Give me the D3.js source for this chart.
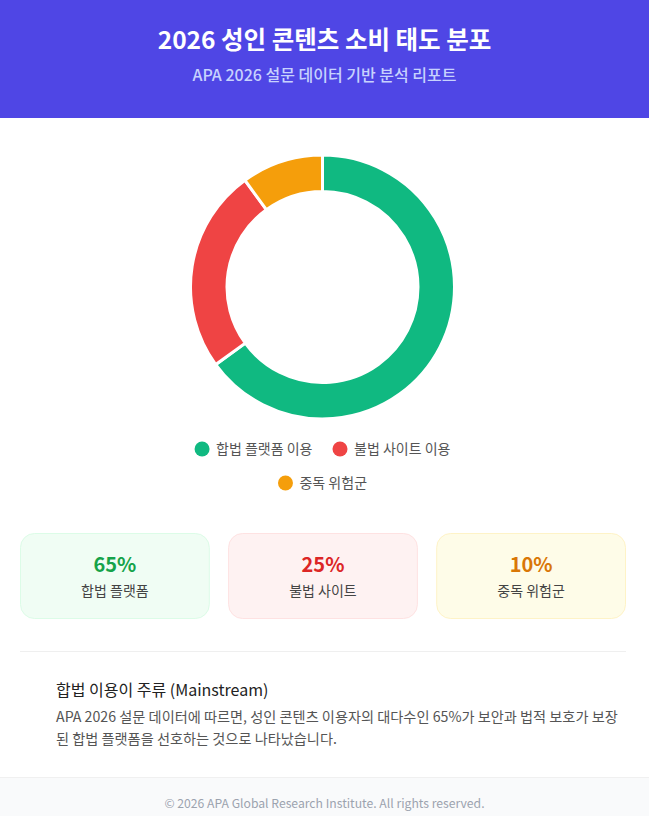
<!DOCTYPE html>
<html><head><meta charset="utf-8">
<script src="https://cdn.jsdelivr.net/npm/d3@7"></script>
<style>
html,body{margin:0;padding:0;background:#fff;}
svg{display:block;font-family:"Noto Sans CJK KR","Noto Sans",sans-serif;}
</style></head>
<body>
<svg id="c" width="649" height="816"></svg>
<script>
const categories = ["합법 플랫폼 이용", "불법 사이트 이용", "중독 위험군"];
const values = [65, 25, 10];
const colors = ["#10b981", "#ef4444", "#f59e0b"];
const cardLabels = ["합법 플랫폼", "불법 사이트", "중독 위험군"];
const cardValueColors = ["#16a34a", "#dc2626", "#d97706"];
const cardBg = ["#f0fdf4", "#fef2f2", "#fefce8"];
const cardBorder = ["#dcfce7", "#fee2e2", "#fef3c7"];
const title = "2026 성인 콘텐츠 소비 태도 분포";
const subtitle = "APA 2026 설문 데이터 기반 분석 리포트";
const noteTitle = "합법 이용이 주류 (Mainstream)";
const noteLines = ["APA 2026 설문 데이터에 따르면, 성인 콘텐츠 이용자의 대다수인 65%가 보안과 법적 보호가 보장", "된 합법 플랫폼을 선호하는 것으로 나타났습니다."];
const footer = "© 2026 APA Global Research Institute. All rights reserved.";

const svg = d3.select("#c");
const W = 649;

// header
svg.append("rect").attr("x",0).attr("y",0).attr("width",W).attr("height",118).attr("fill","#4f46e5");
svg.append("text").attr("x",W/2).attr("y",49).attr("text-anchor","middle").attr("fill","#fff")
  .attr("font-size",24.5).attr("font-weight",700).text(title);
svg.append("text").attr("x",W/2).attr("y",81).attr("text-anchor","middle").attr("fill","#c7d2fe")
  .attr("font-size",16).attr("font-weight",500).text(subtitle);

// donut
const cx = 322.5, cy = 287, R = 132, r = 95.5;
const pie = d3.pie().sort(null).value(d=>d);
const arc = d3.arc().innerRadius(r).outerRadius(R);
const g = svg.append("g").attr("transform",`translate(${cx},${cy})`);
g.selectAll("path").data(pie(values)).join("path")
  .attr("d",arc).attr("fill",(d,i)=>colors[i]).attr("stroke","#fff").attr("stroke-width",3);

// legend
function legendRow(items, y){
  const grp = svg.append("g");
  let x = 0;
  items.forEach((i,k)=>{
    const it = grp.append("g").attr("transform",`translate(${x},0)`);
    it.append("circle").attr("cx",7.5).attr("cy",y).attr("r",7.5).attr("fill",colors[i]);
    const t = it.append("text").attr("x",21.5).attr("y",y+5).attr("font-size",14).attr("fill","#555").text(categories[i]);
    const w = t.node().getComputedTextLength();
    x += 21.5 + w + 20;
  });
  const total = x - 20;
  grp.attr("transform",`translate(${cx - total/2},0)`);
}
legendRow([0,1], 449);
legendRow([2], 483);

// cards
const cardX = d3.scaleBand().domain(d3.range(3)).range([20,626]).paddingInner(0.088);
const cards = svg.selectAll("g.card").data(values).join("g").attr("class","card")
  .attr("transform",(d,i)=>`translate(${cardX(i)},533)`);
cards.append("rect").attr("x",0.5).attr("y",0.5).attr("width",cardX.bandwidth()-1).attr("height",85)
  .attr("rx",14).attr("fill",(d,i)=>cardBg[i]).attr("stroke",(d,i)=>cardBorder[i]);
cards.append("text").attr("x",cardX.bandwidth()/2).attr("y",39).attr("text-anchor","middle")
  .attr("font-size",20).attr("font-weight",700).attr("fill",(d,i)=>cardValueColors[i]).text(d=>d+"%");
cards.append("text").attr("x",cardX.bandwidth()/2).attr("y",63).attr("text-anchor","middle")
  .attr("font-size",14).attr("fill","#444").text((d,i)=>cardLabels[i]);

// divider
svg.append("line").attr("x1",20).attr("x2",626).attr("y1",651.5).attr("y2",651.5).attr("stroke","#efefef");

// note
svg.append("text").attr("x",56).attr("y",696).attr("font-size",16).attr("fill","#222").text(noteTitle);
noteLines.forEach((l,i)=>{
  svg.append("text").attr("x",56).attr("y",722+i*21.5).attr("font-size",14.2).attr("fill","#555").text(l);
});

// footer
svg.append("rect").attr("x",0).attr("y",777).attr("width",W).attr("height",39).attr("fill","#f9fafb");
svg.append("line").attr("x1",0).attr("x2",W).attr("y1",777.5).attr("y2",777.5).attr("stroke","#f0f0f0");
svg.append("text").attr("x",W/2).attr("y",808).attr("text-anchor","middle").attr("font-size",12.2).attr("fill","#9ca3af").text(footer);
</script>
</body></html>
